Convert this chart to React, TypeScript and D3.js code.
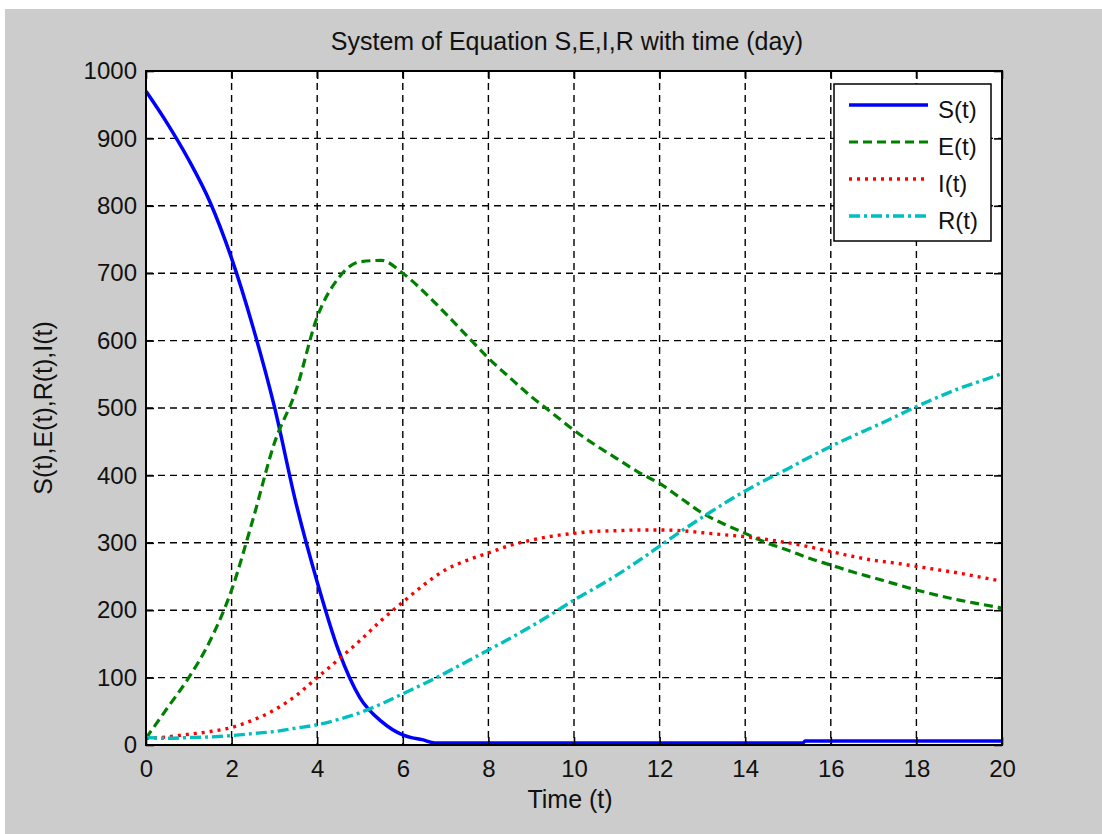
import React, { useRef, useEffect } from 'react';
import * as d3 from 'd3';

// time grid (days) shared by E, I and R
const days = [
  0, 0.5, 1, 1.5, 2, 2.5, 3, 3.5, 4, 4.5, 5, 5.5, 6, 6.5, 7, 7.5, 8, 8.5, 9, 9.5, 10,
  10.5, 11, 11.5, 12, 12.5, 13, 13.5, 14, 14.5, 15, 15.5, 16, 16.5, 17, 17.5, 18, 18.5, 19, 19.5, 20,
];

const exposed = [
  10, 55, 100, 155, 230, 335, 448, 525, 635, 693, 717, 719, 700, 672, 640, 607, 574, 545, 517, 492, 467,
  445, 425, 405, 388, 366, 344, 328, 314, 300, 289, 277, 267, 257, 248, 239, 230, 222, 215, 209, 203,
];

const infected = [
  10, 12, 16, 20, 26, 37, 52, 73, 100, 127, 155, 185, 212, 238, 260, 274, 285, 296, 304, 310, 314,
  317, 318, 319, 319, 318, 315, 312, 309, 305, 300, 294, 287, 280, 274, 270, 265, 260, 255, 249, 243,
];

const recovered = [
  11, 10, 11, 12, 14, 17, 20, 25, 30, 38, 48, 61, 76, 91, 107, 124, 141, 158, 176, 195, 215,
  233, 252, 273, 295, 317, 338, 358, 377, 394, 410, 427, 443, 458, 472, 487, 502, 516, 529, 540, 551,
];

// S(t) has its own time points because of the small steps near zero
const sDays = [
  0, 0.5, 1, 1.5, 2, 2.5, 3, 3.5, 4, 4.5, 5, 5.5, 6, 6.2, 6.45, 6.75, 7, 8, 9, 10, 11, 12, 13, 14, 15,
  15.35, 15.4, 16, 17, 18, 19, 20,
];
const susceptible = [
  970, 922, 868, 805, 722, 620, 502, 360, 242, 140, 70, 35, 15, 11, 8, 3, 3, 3, 3, 3, 3, 3, 3, 3, 3,
  3, 6, 6, 6, 6, 6, 6,
];

const seriesNames = ['S(t)', 'E(t)', 'I(t)', 'R(t)'];
const xTicks = [0, 2, 4, 6, 8, 10, 12, 14, 16, 18, 20];
const yTicks = [0, 100, 200, 300, 400, 500, 600, 700, 800, 900, 1000];

const titleText = 'System of Equation S,E,I,R with time (day)';
const xLabel = 'Time (t)';
const yLabel = 'S(t),E(t),R(t),I(t)';

const FONT = "'Liberation Sans', Arial, sans-serif";

const SeirChart: React.FC = () => {
  const svgRef = useRef<SVGSVGElement | null>(null);

  useEffect(() => {
    d3.select(svgRef.current).selectAll('*').remove();

    const W = 1102;
    const H = 834;
    const left = 146, right = 1002, top = 71, bottom = 745;

    const svg = d3.select(svgRef.current)
      .attr('width', W)
      .attr('height', H);

    // figure background
    svg.append('rect')
      .attr('x', 0).attr('y', 0).attr('width', W).attr('height', H)
      .attr('fill', '#ffffff');
    svg.append('rect')
      .attr('x', 5).attr('y', 9).attr('width', W - 5).attr('height', H - 9)
      .attr('fill', '#cccccc');

    // axes area
    svg.append('rect')
      .attr('x', left).attr('y', top)
      .attr('width', right - left).attr('height', bottom - top)
      .attr('fill', '#ffffff');

    // scales
    const x = d3.scaleLinear().domain([0, 20]).range([left, right]);
    const y = d3.scaleLinear().domain([0, 1000]).range([bottom, top]);

    // grid
    const grid = svg.append('g');
    grid.selectAll('.vgrid')
      .data(xTicks.slice(1, -1))
      .enter()
      .append('line')
      .attr('x1', d => x(d)).attr('x2', d => x(d))
      .attr('y1', top).attr('y2', bottom)
      .attr('stroke', '#000')
      .attr('stroke-width', 1.4)
      .attr('stroke-dasharray', '7,5');
    grid.selectAll('.hgrid')
      .data(yTicks.slice(1, -1))
      .enter()
      .append('line')
      .attr('x1', left).attr('x2', right)
      .attr('y1', d => y(d)).attr('y2', d => y(d))
      .attr('stroke', '#000')
      .attr('stroke-width', 1.4)
      .attr('stroke-dasharray', '7,5');

    // curves
    const line = d3.line<[number, number]>()
      .x(d => x(d[0]))
      .y(d => y(d[1]))
      .curve(d3.curveMonotoneX);

    const series = [
      { pts: sDays.map((t, i) => [t, susceptible[i]] as [number, number]), color: '#0000ff', dash: null, w: 3.5 },
      { pts: days.map((t, i) => [t, exposed[i]] as [number, number]), color: '#008000', dash: '9,5', w: 3.2 },
      { pts: days.map((t, i) => [t, infected[i]] as [number, number]), color: '#ff0000', dash: '3,5', w: 3.4 },
      { pts: days.map((t, i) => [t, recovered[i]] as [number, number]), color: '#00bfbf', dash: '11,4,3,4', w: 3.4 },
    ];

    series.forEach(s => {
      svg.append('path')
        .attr('d', line(s.pts))
        .attr('fill', 'none')
        .attr('stroke', s.color)
        .attr('stroke-width', s.w)
        .attr('stroke-dasharray', s.dash);
    });

    // axes with inward ticks
    const styleAxis = (g: d3.Selection<SVGGElement, unknown, null, undefined>) => {
      g.select('.domain').remove();
      g.selectAll('.tick line').attr('stroke', '#000').attr('stroke-width', 1.6);
      g.selectAll('.tick text')
        .attr('fill', '#111')
        .attr('font-size', 24)
        .attr('font-family', FONT);
    };

    svg.append('g')
      .attr('transform', `translate(0,${bottom})`)
      .call(d3.axisBottom(x).tickValues(xTicks).tickSize(-8).tickPadding(15).tickFormat(d3.format('d')))
      .call(styleAxis);
    svg.append('g')
      .attr('transform', `translate(${left},0)`)
      .call(d3.axisLeft(y).tickValues(yTicks).tickSize(-8).tickPadding(9).tickFormat(d3.format('d')))
      .call(styleAxis);
    svg.append('g')
      .attr('transform', `translate(0,${top})`)
      .call(d3.axisTop(x).tickValues(xTicks).tickSize(-8).tickFormat(() => ''))
      .call(styleAxis);
    svg.append('g')
      .attr('transform', `translate(${right},0)`)
      .call(d3.axisRight(y).tickValues(yTicks).tickSize(-8).tickFormat(() => ''))
      .call(styleAxis);

    // box
    svg.append('rect')
      .attr('x', left).attr('y', top)
      .attr('width', right - left).attr('height', bottom - top)
      .attr('fill', 'none')
      .attr('stroke', '#000')
      .attr('stroke-width', 2);

    // labels
    svg.append('text')
      .attr('x', 567).attr('y', 50)
      .attr('text-anchor', 'middle')
      .attr('font-family', FONT).attr('font-size', 25)
      .attr('fill', '#111')
      .text(titleText);
    svg.append('text')
      .attr('x', 570).attr('y', 808)
      .attr('text-anchor', 'middle')
      .attr('font-family', FONT).attr('font-size', 25)
      .attr('fill', '#111')
      .text(xLabel);
    svg.append('text')
      .attr('transform', 'translate(52,408) rotate(-90)')
      .attr('text-anchor', 'middle')
      .attr('font-family', FONT).attr('font-size', 25)
      .attr('fill', '#111')
      .text(yLabel);

    // legend
    const lg = svg.append('g');
    lg.append('rect')
      .attr('x', 834).attr('y', 84).attr('width', 157).attr('height', 157)
      .attr('fill', '#fff')
      .attr('stroke', '#000')
      .attr('stroke-width', 1.5);
    const rowY = d3.scalePoint<string>().domain(seriesNames).range([105, 216]);
    seriesNames.forEach((name, i) => {
      const yy = rowY(name) as number;
      lg.append('line')
        .attr('x1', 849).attr('x2', 928)
        .attr('y1', yy).attr('y2', yy)
        .attr('stroke', series[i].color)
        .attr('stroke-width', series[i].w)
        .attr('stroke-dasharray', series[i].dash);
      lg.append('text')
        .attr('x', 938).attr('y', yy + 13)
        .attr('font-family', FONT).attr('font-size', 24)
        .attr('fill', '#111')
        .text(name);
    });
  }, []);

  return (
    <svg ref={svgRef} style={{ position: 'absolute', left: 0, top: 0, display: 'block' }}></svg>
  );
};

export default function App() {
  return (
    <div>
      <SeirChart />
    </div>
  );
}
